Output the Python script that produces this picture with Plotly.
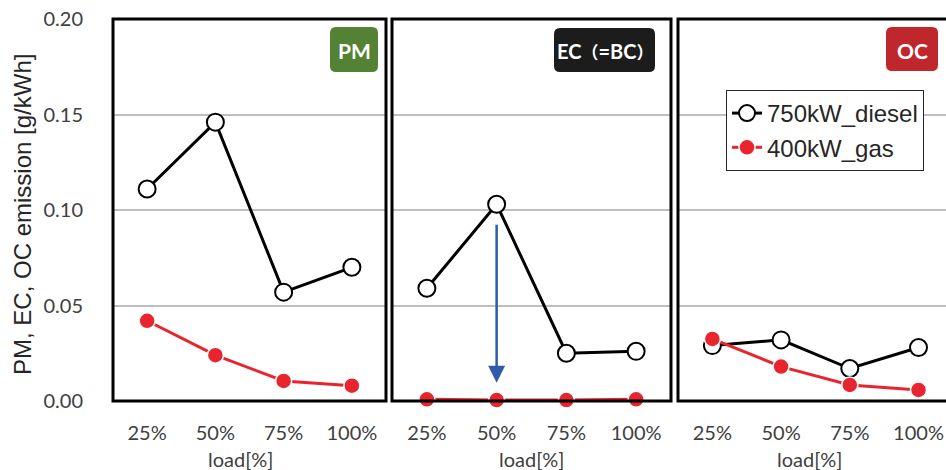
import plotly.graph_objects as go

# ---------------- data ----------------
loads = ["25%", "50%", "75%", "100%"]
panel_labels = ["PM", "EC（=BC）", "OC"]
series_names = ["750kW_diesel", "400kW_gas"]

diesel_pm = [0.111, 0.146, 0.057, 0.070]
gas_pm = [0.042, 0.024, 0.0105, 0.008]
diesel_ec = [0.059, 0.103, 0.025, 0.026]
gas_ec = [0.0009, 0.0005, 0.0005, 0.0009]
diesel_oc = [0.029, 0.032, 0.017, 0.028]
gas_oc = [0.0325, 0.018, 0.0084, 0.0058]

y_tickvals = [0.00, 0.05, 0.10, 0.15, 0.20]
y_ticktext = ["0.00", "0.05", "0.10", "0.15", "0.20"]

arrow_load = "50%"
arrow_from = 0.093
arrow_to = 0.0096

# ---------------- styling ----------------
W, H = 946, 470
CAL = "Lato, Carlito, Calibri, sans-serif"
ARIAL = "Liberation Sans, Arial, sans-serif"
TICK_COLOR = "#404040"
DIESEL_COLOR = "#000000"
GAS_COLOR = "#E8252E"
GRID_COLOR = "#BFBFBF"

def px_x(p):
    return p / W

def px_y(p):
    return (H - p) / H

x_domains = [[px_x(113), px_x(386)], [px_x(392), px_x(671)], [px_x(678), 1.0]]
x_ranges = [[-0.5, 3.5], [-0.5, 3.5], [-0.5, 3.4]]
y_domain = [px_y(401), px_y(19)]

diesel_all = [diesel_pm, diesel_ec, diesel_oc]
gas_all = [gas_pm, gas_ec, gas_oc]

fig = go.Figure()

for i in range(3):
    suffix = "" if i == 0 else str(i + 1)
    fig.add_trace(go.Scatter(
        x=loads, y=diesel_all[i], name=series_names[0],
        xaxis="x" + suffix, yaxis="y" + suffix,
        mode="lines+markers", cliponaxis=False,
        line=dict(color=DIESEL_COLOR, width=3),
        marker=dict(symbol="circle", size=17, color="white",
                    line=dict(color=DIESEL_COLOR, width=2)),
        showlegend=(i == 0), legendgroup="d",
    ))
    fig.add_trace(go.Scatter(
        x=loads, y=gas_all[i], name=series_names[1],
        xaxis="x" + suffix, yaxis="y" + suffix,
        mode="lines+markers", cliponaxis=False,
        line=dict(color=GAS_COLOR, width=3),
        marker=dict(symbol="circle", size=16, color=GAS_COLOR,
                    line=dict(color="white", width=1.5)),
        showlegend=(i == 0), legendgroup="g",
    ))

layout = dict(
    width=W, height=H,
    margin=dict(l=0, r=0, t=0, b=0),
    paper_bgcolor="white", plot_bgcolor="white",
    template="none",
    showlegend=True,
    legend=dict(
        x=px_x(726), y=px_y(90), xanchor="left", yanchor="top",
        bgcolor="white", bordercolor="#262626", borderwidth=1,
        font=dict(family=ARIAL, size=24, color="#262626"),
        itemsizing="trace", tracegroupgap=0,
    ),
)

for i in range(3):
    suffix = "" if i == 0 else str(i + 1)
    layout["xaxis" + suffix] = dict(
        domain=x_domains[i], anchor="y" + suffix,
        type="category", categoryorder="array", categoryarray=loads,
        range=x_ranges[i], showgrid=False, zeroline=False, showline=False,
        ticks="outside", ticklen=14, tickcolor="rgba(0,0,0,0)",
        tickfont=dict(family=CAL, size=20, color=TICK_COLOR),
        automargin=False, fixedrange=True,
    )
    yax = dict(
        domain=y_domain, anchor="x" + suffix, range=[0, 0.2],
        tickvals=y_tickvals, ticktext=y_ticktext,
        showgrid=True, gridcolor=GRID_COLOR, gridwidth=1.5,
        zeroline=False, showline=False,
        automargin=False, fixedrange=True,
    )
    if i == 0:
        yax.update(ticks="outside", ticklen=25, tickcolor="rgba(0,0,0,0)",
                   tickfont=dict(family=CAL, size=20, color=TICK_COLOR))
    else:
        yax.update(showticklabels=False, ticks="", matches="y")
    layout["yaxis" + suffix] = yax

fig.update_layout(**layout)

# panel frames
shapes = []
frame_right = [1, 1, 1.05]
for i in range(3):
    suffix = "" if i == 0 else str(i + 1)
    shapes.append(dict(
        type="rect", xref="x" + suffix + " domain", yref="y" + suffix + " domain",
        x0=0, x1=frame_right[i], y0=0, y1=1,
        line=dict(color="black", width=3), fillcolor="rgba(0,0,0,0)", layer="above",
    ))

def rounded_rect(x0p, y0p, x1p, y1p, r=6):
    rx, ry = r / W, r / H
    x0, x1 = px_x(x0p), px_x(x1p)
    yt, yb = px_y(y0p), px_y(y1p)
    return (f"M{x0+rx},{yt} L{x1-rx},{yt} Q{x1},{yt} {x1},{yt-ry} "
            f"L{x1},{yb+ry} Q{x1},{yb} {x1-rx},{yb} "
            f"L{x0+rx},{yb} Q{x0},{yb} {x0},{yb+ry} "
            f"L{x0},{yt-ry} Q{x0},{yt} {x0+rx},{yt} Z")

label_boxes = [(330, 27, 378, 72), (554, 28, 655, 72), (886, 27, 938, 71)]
label_colors = ["#548235", "#1C1C1C", "#C0272D"]
label_sizes = [21, 20, 21]
for (bx0, by0, bx1, by1), col in zip(label_boxes, label_colors):
    shapes.append(dict(type="path", xref="paper", yref="paper",
                       path=rounded_rect(bx0, by0, bx1, by1),
                       fillcolor=col, line=dict(width=0), layer="above"))

fig.update_layout(shapes=shapes)

def label_markup(txt):
    # shrink the full-width parentheses so the label fits like the original
    for ch in ["（", "）"]:
        txt = txt.replace(ch, "<span style='font-size:17px'>" + ch + "</span>")
    return "<b>" + txt + "</b>"

annotations = []
for (bx0, by0, bx1, by1), txt, fs in zip(label_boxes, panel_labels, label_sizes):
    annotations.append(dict(
        x=px_x((bx0 + bx1) / 2), y=px_y((by0 + by1) / 2 + 1), xref="paper", yref="paper",
        xanchor="center", yanchor="middle", showarrow=False, text=label_markup(txt),
        font=dict(family="Lato, Noto Sans CJK JP, sans-serif", size=fs, color="white"),
    ))

for cx in [240, 531, 809]:
    annotations.append(dict(
        x=px_x(cx), y=px_y(459), xref="paper", yref="paper",
        xanchor="center", yanchor="middle", showarrow=False, text="load[%]",
        font=dict(family=CAL, size=20, color=TICK_COLOR),
    ))

annotations.append(dict(
    x=px_x(22), y=px_y(215), xref="paper", yref="paper",
    xanchor="center", yanchor="middle", showarrow=False, textangle=-90,
    text="PM, EC, OC emission [g/kWh]",
    font=dict(family=ARIAL, size=24, color="#262626"),
))

annotations.append(dict(
    x=arrow_load, y=arrow_to, xref="x2", yref="y2",
    ax=arrow_load, ay=arrow_from, axref="x2", ayref="y2",
    showarrow=True, arrowhead=2, arrowsize=1.36, arrowwidth=2.5,
    arrowcolor="#2F5BAA", text="",
))

fig.update_layout(annotations=annotations)

fig.write_html("out.html")
